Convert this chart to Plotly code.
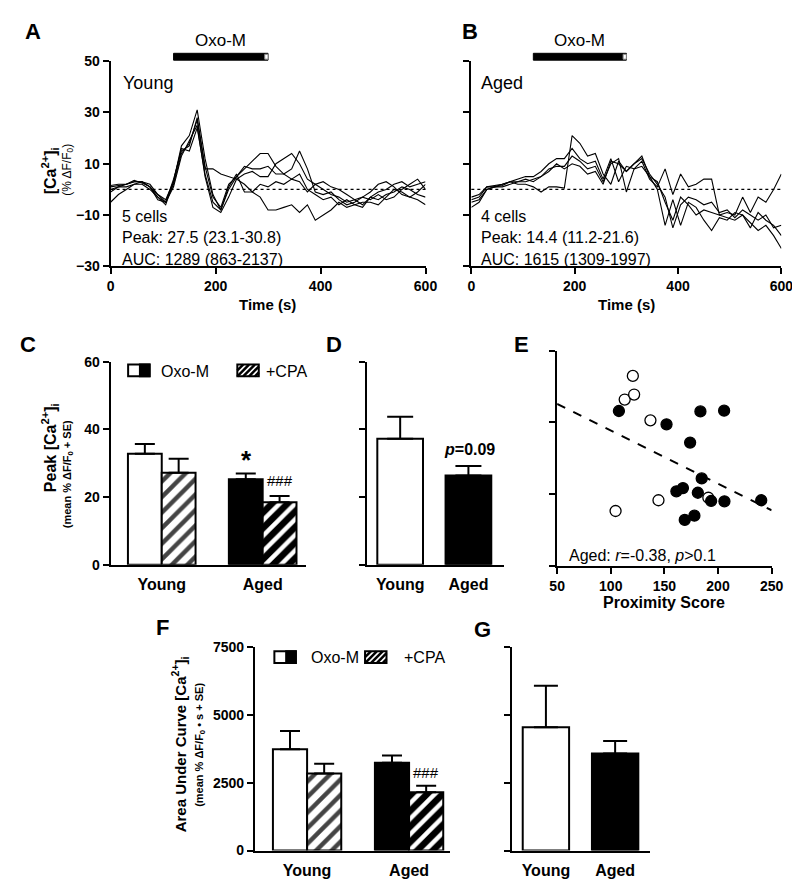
import plotly.graph_objects as go

W, H = 800, 882
FONT = "Liberation Sans, Arial, sans-serif"

# ------------------------------------------------------------------ data
time_s = list(range(0, 601, 15))

young_cell1 = [1, 1.5, 2, 3, 3, 1, -2, -4, 3, 17, 21, 31, 12, -2, -8, 0, 5, 8, 11, 14, 14,
               9, 6, 8, 15, 8, -1, -2, -1, -4, -6, -5, -3, -1, 2, 3, 1, -2, -3, -1, 2]
young_cell2 = [-1, 1, 2, 3.5, 2.5, 1, -3, -5, 2, 14, 18, 27, 8, 8, 6, 5, 4, 6, 7, 5, 5,
               10, 12, 14, 10, 4, 2, 3, 1, 0, -2, -4, -3, -4, -2, -4, -3, 0, 2, 4, 0]
young_cell3 = [-5, -2, 0, 2, 3, 2, -2, -5, 1, 13, 19, 25, 5, -7, -9, -3, 4, 2, -1, -3, -8,
               -8, -7, -6, -9, -6, -12, -10, -8, -5, -7, -6, -5, -5, -6, -3, 0, -1, -3, -4, -6]
young_cell4 = [0, 1, 1, 2, 2, 0, -3, -6, 3, 16, 15, 24, 6, -5, -8, 1, 6, -1, -1, 2, 1,
               3, 2, 4, 3, -1, 2, 0, -2, -3, -5, -4, -6, -3, -1, 0, 2, 3, 1, 2, 3]
young_cell5 = [1.5, 2, 2, 3, 3, 1, -4, -5, 4, 15, 17, 28, 9, -3, -7, 2, 5, 9, 8, 8, 9,
               6, 6, 4, 6, 0, -2, -4, -3, -6, -4, -6, -7, -3, -4, -2, -1, 1, 0, -2, -3]

aged_cell1 = [-5, -4, 0, 1, 1.5, 3, 2, 2, 1, -1, 1, 1, 0.5, 21, 18, 13, 14, 6, 2, 11, 7,
              10, 13, 5, 3, -5, -12, -3, -6, -10, -8, -9, -10, -11, -12, -10, -13, -16, -14, -18, -23]
aged_cell2 = [-3, -2, 1, 1, 2, 3, 4, 5, 5, 7, 10, 12, 12, 16, 12, 10, 11, 4, 12, 3, 9,
              8, 11, 4, 1, 8, -2, 6, 1, 2, 4, 4, -10, -9, -10, -3, -9, -3, -5, 0, 6]
aged_cell3 = [-7, -5, 0, 1, 1, 2, 3, 4, 3, 5, 8, 9, 9, 13, 11, 8, 9, 3, 10, 12, -1,
              8, 9, 5, 0, -14, -4, -14, -5, -7, -12, -16, -11, -12, -9, -10, -15, -9, -12, -14, -18]
aged_cell4 = [-4, -3, 1, 1.5, 2, 3, 3, 3, 4, 5, 7, 10, 8, 10, 9, 6, 7, 2, 11, 10, 7,
              10, 12, 6, 2, -3, -15, -6, -3, -4, -6, -5, -9, -8, -11, -8, -10, -12, -10, -15, -14]

young_traces = [young_cell1, young_cell2, young_cell3, young_cell4, young_cell5]
aged_traces = [aged_cell1, aged_cell2, aged_cell3, aged_cell4]
oxo_start, oxo_end = 120, 300

groups = ["Young", "Aged"]
peak_oxo = [32.8, 25.3]
peak_oxo_se = [2.9, 1.7]
peak_cpa = [27.2, 18.5]
peak_cpa_se = [4.1, 1.8]
peak_all = [37.2, 26.4]
peak_all_se = [6.5, 2.8]
auc_oxo = [3740, 3240]
auc_oxo_se = [670, 270]
auc_cpa = [2840, 2150]
auc_cpa_se = [360, 240]
auc_all = [4550, 3580]
auc_all_se = [1530, 460]

young_prox = [120.6, 113.0, 121.8, 137.0, 144.5, 104.5, 191.0]
young_peak = [53.0, 46.4, 47.8, 40.6, 18.3, 15.3, 19.0]
aged_prox = [107.6, 152.0, 183.6, 205.7, 174.0, 184.8, 161.2, 167.3, 181.2, 193.6, 206.0, 240.3, 169.0, 178.0]
aged_peak = [43.2, 39.5, 43.1, 43.3, 34.4, 24.4, 20.8, 21.7, 20.4, 18.1, 18.0, 18.3, 12.8, 14.0]
fit_x = [50, 250]
fit_y = [45.2, 15.5]

# ------------------------------------------------------------------ helpers
def PX(x):
    return x / W


def PY(y):
    return 1 - y / H


def dom_x(a, b):
    return [a / W, b / W]


def dom_y(top, bottom):
    return [1 - bottom / H, 1 - top / H]


fig = go.Figure()

for tr in young_traces:
    fig.add_trace(go.Scatter(x=time_s, y=tr, mode="lines", line=dict(color="black", width=1.1),
                             xaxis="x", yaxis="y", showlegend=False, hoverinfo="skip"))
for tr in aged_traces:
    fig.add_trace(go.Scatter(x=time_s, y=tr, mode="lines", line=dict(color="black", width=1.1),
                             xaxis="x2", yaxis="y2", showlegend=False, hoverinfo="skip"))

bar_line = dict(color="black", width=2)


def err(arr, w):
    return dict(type="data", array=arr, arrayminus=[0] * len(arr), symmetric=False,
                thickness=2, width=w, color="black")


hatch = dict(shape="/", fgcolor=["black", "white"], fillmode="overlay", fgopacity=1,
             size=11, solidity=0.4)

# C
fig.add_trace(go.Bar(x=groups, y=peak_oxo, marker=dict(color=["white", "black"], line=bar_line),
                     error_y=err(peak_oxo_se, 10), xaxis="x3", yaxis="y3", showlegend=False))
fig.add_trace(go.Bar(x=groups, y=peak_cpa, marker=dict(color=["white", "black"], line=bar_line, pattern=hatch),
                     error_y=err(peak_cpa_se, 10), xaxis="x3", yaxis="y3", showlegend=False))
# D
fig.add_trace(go.Bar(x=groups, y=peak_all, marker=dict(color=["white", "black"], line=bar_line),
                     error_y=err(peak_all_se, 13), xaxis="x4", yaxis="y4", showlegend=False))
# E
fig.add_trace(go.Scatter(x=fit_x, y=fit_y, mode="lines", line=dict(color="black", width=2, dash="dash"),
                         xaxis="x5", yaxis="y5", showlegend=False))
fig.add_trace(go.Scatter(x=young_prox, y=young_peak, mode="markers",
                         marker=dict(size=11, color="white", line=dict(color="black", width=1.3)),
                         xaxis="x5", yaxis="y5", showlegend=False))
fig.add_trace(go.Scatter(x=aged_prox, y=aged_peak, mode="markers",
                         marker=dict(size=11, color="black", line=dict(color="black", width=1.3)),
                         xaxis="x5", yaxis="y5", showlegend=False))
# F
fig.add_trace(go.Bar(x=groups, y=auc_oxo, marker=dict(color=["white", "black"], line=bar_line),
                     error_y=err(auc_oxo_se, 10), xaxis="x6", yaxis="y6", showlegend=False))
fig.add_trace(go.Bar(x=groups, y=auc_cpa, marker=dict(color=["white", "black"], line=bar_line, pattern=hatch),
                     error_y=err(auc_cpa_se, 10), xaxis="x6", yaxis="y6", showlegend=False))
# G
fig.add_trace(go.Bar(x=groups, y=auc_all, marker=dict(color=["white", "black"], line=bar_line),
                     error_y=err(auc_all_se, 12), xaxis="x7", yaxis="y7", showlegend=False))

# ------------------------------------------------------------------ axes
tickfont = dict(family=FONT, size=14, color="black", weight="bold")
catfont = dict(family=FONT, size=16, color="black", weight="bold")


def ax(domain, rng, **kw):
    d = dict(domain=domain, range=rng, showline=True, linewidth=2, linecolor="black",
             ticks="outside", ticklen=6, tickwidth=2, tickcolor="black", tickfont=tickfont,
             showgrid=False, zeroline=False, fixedrange=True)
    d.update(kw)
    return d


yA = dom_y(46, 255)
yC = dom_y(352, 559)
yF = dom_y(643, 850)

fig.update_layout(
    xaxis=ax(dom_x(97, 420), [0, 600], tickvals=[0, 200, 400, 600], anchor="y"),
    yaxis=ax(yA, [-30, 50], tickvals=[-30, -10, 10, 30, 50], anchor="x"),
    xaxis2=ax(dom_x(467, 785), [0, 600], tickvals=[0, 200, 400, 600], anchor="y2"),
    yaxis2=ax(yA, [-30, 50], tickvals=[-30, -10, 10, 30, 50], showticklabels=False, anchor="x2"),
    xaxis3=ax(dom_x(97, 297), [-0.507, 1.425], ticks="", tickfont=catfont, ticklabelstandoff=4, anchor="y3"),
    yaxis3=ax(yC, [0, 60], tickvals=[0, 20, 40, 60], anchor="x3"),
    xaxis4=ax(dom_x(360, 500), [-0.486, 1.514], ticks="", tickfont=catfont, ticklabelstandoff=4, anchor="y4"),
    yaxis4=ax(yC, [0, 60], tickvals=[0, 20, 40, 60], showticklabels=False, anchor="x4"),
    xaxis5=ax(dom_x(555, 775), [50, 250], tickvals=[50, 100, 150, 200, 250], anchor="y5"),
    yaxis5=ax(dom_y(341, 560), [0, 60], tickvals=[0, 20, 40, 60], showticklabels=False, anchor="x5"),
    xaxis6=ax(dom_x(245, 445), [-0.512, 1.40], ticks="", tickfont=catfont, ticklabelstandoff=4, anchor="y6"),
    yaxis6=ax(yF, [0, 7500], tickvals=[0, 2500, 5000, 7500], anchor="x6"),
    xaxis7=ax(dom_x(509, 650), [-0.486, 1.5], ticks="", tickfont=catfont, ticklabelstandoff=4, anchor="y7"),
    yaxis7=ax(yF, [0, 7500], tickvals=[0, 2500, 5000, 7500], showticklabels=False, anchor="x7"),
    barmode="group", bargap=0.33, bargroupgap=0,
    width=W, height=H, autosize=False,
    margin=dict(l=0, r=0, t=0, b=0),
    paper_bgcolor="white", plot_bgcolor="white",
    font=dict(family=FONT, color="black"),
    hovermode=False,
)

# ------------------------------------------------------------------ shapes
shapes = []
for xr, yr in (("x", "y"), ("x2", "y2")):
    shapes.append(dict(type="line", xref=xr + " domain", yref=yr, x0=0, x1=1, y0=0, y1=0,
                       line=dict(color="black", width=1.2, dash="dot"), layer="below"))
    shapes.append(dict(type="rect", xref=xr, yref="paper", x0=oxo_start, x1=oxo_end,
                       y0=PY(45), y1=PY(38), fillcolor="black", line=dict(color="black", width=1)))
    shapes.append(dict(type="rect", xref=xr, yref="paper", x0=oxo_end - (oxo_end - oxo_start) * 0.035,
                       x1=oxo_end, y0=PY(44), y1=PY(39), fillcolor="white",
                       line=dict(color="#888", width=1)))


def legend_shapes(x0, y0, w, h, gap_x):
    out = []
    out.append(dict(type="rect", xref="paper", yref="paper", x0=PX(x0), x1=PX(x0 + w),
                    y0=PY(y0 + h), y1=PY(y0), fillcolor="white", line=dict(color="black", width=2)))
    out.append(dict(type="rect", xref="paper", yref="paper", x0=PX(x0 + w * 0.55), x1=PX(x0 + w),
                    y0=PY(y0 + h), y1=PY(y0), fillcolor="black", line=dict(color="black", width=2)))
    hx0, hx1, hy0, hy1 = gap_x, gap_x + w, y0, y0 + h
    out.append(dict(type="rect", xref="paper", yref="paper", x0=PX(hx0), x1=PX(hx1),
                    y0=PY(hy1), y1=PY(hy0), fillcolor="white", line=dict(color="black", width=2)))
    hh = hy1 - hy0
    xs = hx0 - hh
    while xs < hx1:
        t0 = max(0.0, (hx0 - xs) / hh)
        t1 = min(1.0, (hx1 - xs) / hh)
        if t1 > t0:
            out.append(dict(type="line", xref="paper", yref="paper",
                            x0=PX(xs + t0 * hh), y0=PY(hy1 - t0 * hh),
                            x1=PX(xs + t1 * hh), y1=PY(hy1 - t1 * hh),
                            line=dict(color="black", width=2.5)))
        xs += 6
    return out


shapes += legend_shapes(115, 355, 22, 12, 227)
shapes += legend_shapes(265, 647, 22, 12, 358)
fig.update_layout(shapes=shapes)

# ------------------------------------------------------------------ annotations
ann = []


def txt(x, y, s, size=16, bold=False, xanchor="center", angle=0):
    ann.append(dict(x=PX(x), y=PY(y), xref="paper", yref="paper", text=s, showarrow=False,
                    xanchor=xanchor, yanchor="middle", textangle=angle,
                    font=dict(family=FONT, size=size, color="black", weight="bold" if bold else "normal")))


for lab, x, y in (("A", 17, 16), ("B", 466, 16), ("C", 12, 335), ("D", 326, 335),
                  ("E", 518, 335), ("F", 150, 623), ("G", 478, 625)):
    txt(x, y, lab, size=22, bold=True)

for xr in ("x", "x2"):
    ann.append(dict(x=(oxo_start + oxo_end) / 2, y=PY(25), xref=xr, yref="paper", text="Oxo-M",
                    showarrow=False, xanchor="center", yanchor="middle",
                    font=dict(family=FONT, size=17, color="black")))

txt(108, 68, "Young", 18, xanchor="left")
txt(107, 204, "5 cells", 16, xanchor="left")
txt(107, 226, "Peak: 27.5 (23.1-30.8)", 16, xanchor="left")
txt(107, 248, "AUC: 1289 (863-2137)", 16, xanchor="left")

txt(475, 68, "Aged", 18, xanchor="left")
txt(475, 204, "4 cells", 16, xanchor="left")
txt(475, 226, "Peak: 14.4 (11.2-21.6)", 16, xanchor="left")
txt(475, 248, "AUC: 1615 (1309-1997)", 16, xanchor="left")

txt(35, 158, "[Ca<sup>2+</sup>]<sub>i</sub>", 16, bold=True, angle=-90)
txt(53, 157, "(% ΔF/F<sub>0</sub>)", 12, angle=-90)
txt(258, 294, "Time (s)", 15, bold=True)
txt(626, 294, "Time (s)", 15, bold=True)

txt(35, 440, "Peak [Ca<sup>2+</sup>]<sub>i</sub>", 16, bold=True, angle=-90)
txt(53, 467, "(mean % ΔF/F<sub>0</sub> + SE)", 11, bold=True, angle=-90)
txt(147, 362, "Oxo-M", 16, xanchor="left")
txt(254, 362, "+CPA", 16, xanchor="left")
txt(236, 452, "*", 26, bold=True)
txt(271, 473, "###", 15)

txt(465, 442, "<i>p</i>=0.09", 16, bold=True)

txt(565, 549, "Aged: <i>r</i>=-0.38, <i>p</i>>0.1", 16, xanchor="left")
txt(665, 597, "Proximity Score", 16, bold=True)

txt(168, 742, "Area Under Curve [Ca<sup>2+</sup>]<sub>i</sub>", 15, bold=True, angle=-90)
txt(188, 742, "(mean % ΔF/F<sub>0</sub> • s + SE)", 11, bold=True, angle=-90)
txt(301, 653, "Oxo-M", 16, xanchor="left")
txt(396, 653, "+CPA", 16, xanchor="left")
txt(421, 770, "###", 15)

fig.update_layout(annotations=ann)

fig.write_html("out.html", config={"displayModeBar": False})
